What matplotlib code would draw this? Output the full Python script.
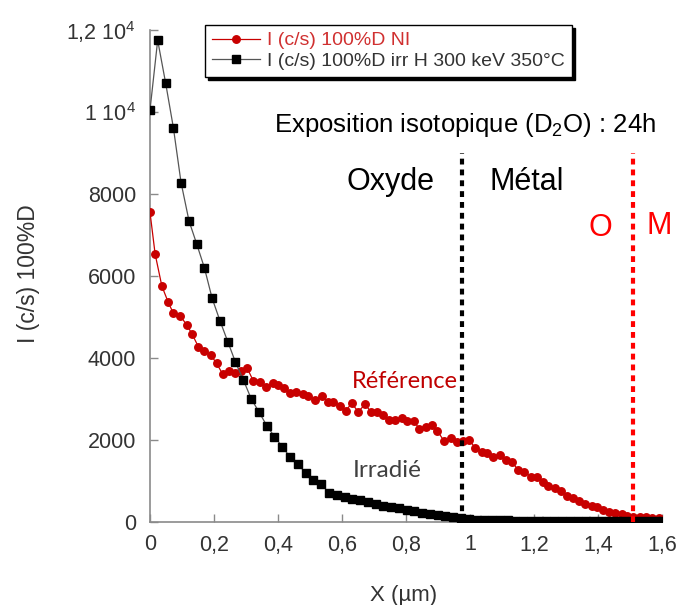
import numpy as np
import matplotlib
matplotlib.use("Agg")
import matplotlib.pyplot as plt
from matplotlib.lines import Line2D

plt.rcParams['font.family'] = ['Liberation Sans', 'DejaVu Sans']
plt.rcParams['mathtext.fontset'] = 'custom'
plt.rcParams['mathtext.rm'] = 'Liberation Sans'
plt.rcParams['mathtext.it'] = 'Liberation Sans:italic'

# ---------------- data ----------------
# Reference sample (red): x in µm, intensity in c/s
x_ref = [0.000, 0.016, 0.037, 0.057, 0.073, 0.094, 0.115, 0.132, 0.151, 0.170,
         0.190, 0.208, 0.227, 0.248, 0.266, 0.284, 0.304, 0.323, 0.344, 0.363,
         0.383, 0.401, 0.419, 0.438, 0.456, 0.477, 0.495, 0.516, 0.537, 0.557,
         0.573, 0.594, 0.612, 0.630, 0.651, 0.672, 0.690, 0.710, 0.729, 0.748,
         0.766, 0.787, 0.804, 0.825, 0.842, 0.863, 0.880, 0.898, 0.919, 0.940,
         0.958, 0.979, 0.998, 1.017, 1.037, 1.054, 1.073, 1.094, 1.113, 1.130,
         1.151, 1.170, 1.190, 1.208, 1.227, 1.245, 1.266, 1.283, 1.304, 1.323,
         1.341, 1.359, 1.380, 1.398, 1.417, 1.435, 1.453, 1.474, 1.492, 1.510,
         1.531, 1.550, 1.568, 1.592]
y_ref = [7554, 6537, 5756, 5358, 5090, 5032, 4805, 4578, 4276, 4170,
         4073, 3870, 3610, 3683, 3627, 3690, 3748, 3439, 3422, 3300,
         3383, 3341, 3261, 3154, 3178, 3127, 3073, 2976, 3073, 2934,
         2934, 2837, 2715, 2895, 2690, 2871, 2690, 2690, 2610, 2488,
         2488, 2544, 2463, 2463, 2261, 2324, 2366, 2220, 1976, 2041,
         1959, 1976, 2000, 1797, 1715, 1676, 1593, 1634, 1512, 1471,
         1268, 1227, 1105, 1105, 983, 885, 822, 756, 634, 578,
         512, 439, 390, 359, 293, 251, 212, 188, 154, 129,
         129, 115, 105, 90]

# Irradiated sample (black)
x_irr = [0.000, 0.024, 0.049, 0.073, 0.097, 0.122, 0.146, 0.170, 0.194, 0.219,
         0.243, 0.267, 0.292, 0.316, 0.340, 0.365, 0.389, 0.413, 0.437, 0.462,
         0.486, 0.510, 0.535, 0.559, 0.583, 0.608, 0.632, 0.656, 0.680, 0.705,
         0.729, 0.753, 0.778, 0.802, 0.826, 0.851, 0.875, 0.899, 0.923, 0.948,
         0.972, 0.996, 1.021, 1.045, 1.069, 1.094, 1.118, 1.142, 1.166, 1.191,
         1.215, 1.239, 1.264, 1.288, 1.312, 1.337, 1.361, 1.385, 1.409, 1.434,
         1.458, 1.482, 1.507, 1.531, 1.555, 1.580, 1.604]
y_irr = [10050, 11750, 10700, 9620, 8280, 7340, 6780, 6200, 5460, 4900,
         4400, 3900, 3460, 3010, 2690, 2350, 2080, 1840, 1590, 1415,
         1200, 1025, 925, 715, 660, 610, 570, 530, 480, 440,
         400, 360, 330, 290, 260, 230, 190, 165, 140, 115,
         95, 75, 60, 50, 45, 40, 38, 35, 36, 33,
         32, 30, 31, 30, 29, 30, 28, 30, 29, 28,
         27, 28, 27, 26, 27, 26, 25]

x_ticks = [0, 0.2, 0.4, 0.6, 0.8, 1.0, 1.2, 1.4, 1.6]
x_ticklabels = ['0', '0,2', '0,4', '0,6', '0,8', '1', '1,2', '1,4', '1,6']
y_ticks = [0, 2000, 4000, 6000, 8000, 10000, 12000]
y_ticklabels = ['0', '2000', '4000', '6000', '8000', '1 10$^{4}$', '1,2 10$^{4}$']

label_ref = 'I (c/s) 100%D NI'
label_irr = 'I (c/s) 100%D irr H 300 keV 350°C'

interface_irr = 0.976     # oxide / metal interface (black dotted)
interface_ref = 1.508     # oxide / metal interface, reference (red dotted)
interface_top = 9000

# ---------------- figure ----------------
W, H = 677, 605
fig = plt.figure(figsize=(W / 100, H / 100), dpi=100)
ax = fig.add_axes([150 / W, 1 - 522 / H, 512 / W, 492 / H])

red = '#c80000'
ax.plot(x_ref, y_ref, color=red, lw=0.9, marker='o', ms=5.4, mfc=red, mec=red,
        zorder=3)
ax.plot(x_irr, y_irr, color='#555555', lw=0.9, marker='s', ms=5.8, mfc='black',
        mec='black', zorder=4)

ax.vlines(interface_irr, 0, interface_top, colors='black', lw=3.0,
          linestyles=(0, (1.4, 1.2)), zorder=5)
ax.vlines(interface_ref, 0, interface_top, colors='#ff0000', lw=3.0,
          linestyles=(0, (1.4, 1.2)), zorder=5)

ax.set_xlim(0, 1.6)
ax.set_ylim(0, 12000)
ax.set_xticks(x_ticks)
ax.set_xticklabels(x_ticklabels)
ax.set_yticks(y_ticks)
ax.set_yticklabels(y_ticklabels)
for s in ['top', 'right']:
    ax.spines[s].set_visible(False)
for s in ['left', 'bottom']:
    ax.spines[s].set_color('#8a8a8a')
    ax.spines[s].set_linewidth(1.2)
ax.tick_params(direction='in', length=6, width=1, color='#8a8a8a',
               labelcolor='#333333', labelsize=15.5)
ax.tick_params(axis='x', pad=9)
ax.tick_params(axis='y', pad=10)

fig.text(404 / W, 1 - 595 / H, 'X (µm)', ha='center', va='center',
         fontsize=16, color='#333333')
fig.text(28 / W, 1 - 274 / H, 'I (c/s) 100%D', ha='center', va='center',
         rotation=90, fontsize=16.5, color='#333333')

# annotations
ax.text(0.984, 9683, 'Exposition isotopique (D$_2$O) : 24h', ha='center',
        va='center', fontsize=18.5, color='black')
ax.text(0.75, 8293, 'Oxyde', ha='center', va='center', fontsize=22,
        color='black')
ax.text(1.178, 8293, 'Métal', ha='center', va='center', fontsize=22,
        color='black')
ax.text(1.406, 7171, 'O', ha='center', va='center', fontsize=22,
        color='#ff0000')
ax.text(1.592, 7220, 'M', ha='center', va='center', fontsize=22,
        color='#ff0000', clip_on=False)
ax.text(0.797, 3415, 'Référence', ha='center', va='center', fontsize=17,
        color='#c00000', family='Lato')
ax.text(0.74, 1268, 'Irradié', ha='center', va='center', fontsize=17.5,
        color='#404040', family='Lato')

handles = [
    Line2D([], [], color=red, lw=0.9, marker='o', ms=5.4, mfc=red, mec=red),
    Line2D([], [], color='#555555', lw=0.9, marker='s', ms=5.8, mfc='black',
           mec='black'),
]
leg = fig.legend(handles, [label_ref, label_irr], loc='upper left',
                 bbox_to_anchor=(205 / W, 1 - 25 / H), borderaxespad=0,
                 fontsize=14, frameon=True, fancybox=False,
                 shadow={'color': 'black', 'alpha': 1.0},
                 edgecolor='black', framealpha=1, handlelength=2.5,
                 handletextpad=0.35, labelspacing=0.15, borderpad=0.35)
leg.get_frame().set_linewidth(1.0)
txts = leg.get_texts()
txts[0].set_color('#d03030')
txts[1].set_color('#333333')

fig.savefig('out.png', dpi=100)
